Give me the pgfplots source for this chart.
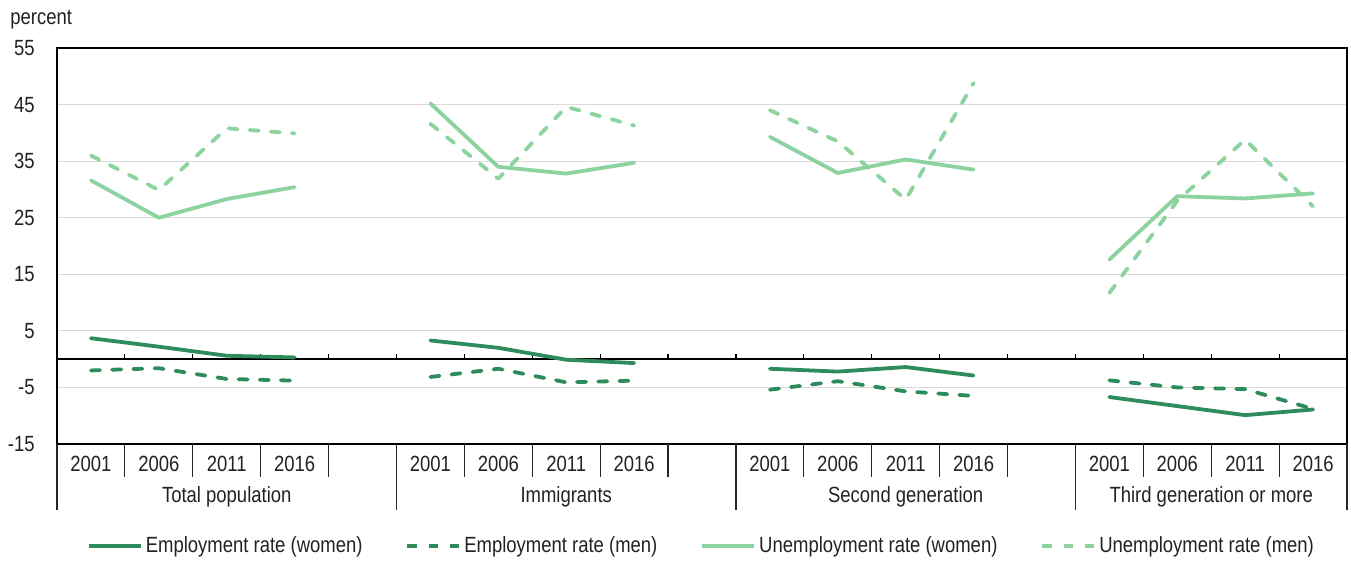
\documentclass[border=0pt]{standalone}
\usepackage{pgfplots}
\pgfplotsset{compat=1.18}
\usepackage{fontspec}
\setmainfont{Liberation Sans}[FakeStretch=0.84]
\definecolor{dkg}{RGB}{46,139,92}
\definecolor{ltg}{RGB}{141,211,160}
\definecolor{gridc}{RGB}{217,217,217}
\definecolor{txt}{RGB}{34,34,34}
\begin{document}
\fontsize{11pt}{13pt}\selectfont
\begin{tikzpicture}
\useasboundingbox (-28.5pt,-58.5pt) rectangle (647pt,222pt);
\begin{axis}[
  at={(0,0)}, anchor=south west,
  scale only axis, width=645pt, height=198pt,
  xmin=-0.5, xmax=18.5, ymin=-15, ymax=55,
  ytick={-15,-5,5,15,25,35,45,55},
  xtick={0,1,2,3,5,6,7,8,10,11,12,13,15,16,17,18},
  xticklabels={2001,2006,2011,2016,2001,2006,2011,2016,2001,2006,2011,2016,2001,2006,2011,2016},
  major tick length=0pt,
  ymajorgrids, grid style={gridc, line width=0.6pt},
  axis line style={black, line width=0.7pt},
  tick label style={font=\fontsize{11pt}{13pt}\selectfont, text=txt},
  yticklabel style={inner sep=0pt, anchor=east, xshift=-11pt},
  xticklabel style={inner sep=0pt, anchor=center, yshift=-10pt},
  /pgf/number format/assume math mode=true,
  clip=false,
  every axis plot/.append style={line width=1.9pt, line join=round, line cap=round},
  legend columns=4,
  legend style={at={(0.5,-0.2576)}, anchor=center, draw=none, fill=none,
    font=\fontsize{11pt}{13pt}\selectfont, text=txt,
    /tikz/every even column/.append style={column sep=20pt},
    inner sep=0pt, nodes={inner sep=1.5pt}},
  legend image code/.code={\draw[#1, line cap=butt] (0pt,0pt) -- (26pt,0pt);},
]
% zero line and ticks
\draw[black, line width=0.7pt] (axis cs:-0.5,0) -- (axis cs:18.5,0);
\pgfplotsinvokeforeach{0.5,1.5,...,17.5}{\draw[black, line width=0.6pt] (axis cs:#1,0) -- ++(0pt,2.5pt);}
% short separators
\pgfplotsinvokeforeach{0.5,1.5,2.5,3.5,5.5,6.5,7.5,8.5,10.5,11.5,12.5,13.5,15.5,16.5,17.5}{\draw[black!85, line width=0.6pt] (axis cs:#1,-15) -- ++(0pt,-16.5pt);}
% group separators
\pgfplotsinvokeforeach{-0.5,4.5,9.5,14.5,18.5}{\draw[black!85, line width=0.6pt] (axis cs:#1,-15) -- ++(0pt,-33pt);}
% group labels
\node[text=txt, inner sep=0pt] at ([yshift=-26.5pt]axis cs:2,-15) {Total population};
\node[text=txt, inner sep=0pt] at ([yshift=-26.5pt]axis cs:7,-15) {Immigrants};
\node[text=txt, inner sep=0pt] at ([yshift=-26.5pt]axis cs:12,-15) {Second generation};
\node[text=txt, inner sep=0pt] at ([yshift=-26.5pt]axis cs:16.5,-15) {Third generation or more};
\node[text=txt, inner sep=0pt, anchor=west] at ([xshift=-23.5pt, yshift=14pt]axis cs:-0.5,55) {percent};

% Employment rate (women)
\addplot[dkg] coordinates {(0,3.7) (1,2.2) (2,0.6) (3,0.3)};
\addlegendentry{Employment rate (women)}
\addplot[dkg, forget plot] coordinates {(5,3.3) (6,2.0) (7,-0.1) (8,-0.7)};
\addplot[dkg, forget plot] coordinates {(10,-1.7) (11,-2.2) (12,-1.4) (13,-2.9)};
\addplot[dkg, forget plot] coordinates {(15,-6.7) (16,-8.3) (17,-9.9) (18,-8.9)};
% Employment rate (men)
\addplot[dkg, dash pattern=on 4.6pt off 6pt] coordinates {(0,-2.0) (1,-1.6) (2,-3.5) (3,-3.8)};
\addlegendentry{Employment rate (men)}
\addplot[dkg, dash pattern=on 4.6pt off 6pt, forget plot] coordinates {(5,-3.15) (6,-1.7) (7,-4.1) (8,-3.8)};
\addplot[dkg, dash pattern=on 4.6pt off 6pt, forget plot] coordinates {(10,-5.4) (11,-3.9) (12,-5.7) (13,-6.5)};
\addplot[dkg, dash pattern=on 4.6pt off 6pt, forget plot] coordinates {(15,-3.75) (16,-5.0) (17,-5.3) (18,-8.8)};
% Unemployment rate (women)
\addplot[ltg] coordinates {(0,31.6) (1,25.0) (2,28.3) (3,30.4)};
\addlegendentry{Unemployment rate (women)}
\addplot[ltg, forget plot] coordinates {(5,45.2) (6,34.0) (7,32.8) (8,34.7)};
\addplot[ltg, forget plot] coordinates {(10,39.3) (11,32.9) (12,35.3) (13,33.5)};
\addplot[ltg, forget plot] coordinates {(15,17.6) (16,28.8) (17,28.4) (18,29.3)};
% Unemployment rate (men)
\addplot[ltg, dash pattern=on 4.6pt off 6pt] coordinates {(0,36.0) (1,29.9) (2,40.8) (3,39.9)};
\addlegendentry{Unemployment rate (men)}
\addplot[ltg, dash pattern=on 4.6pt off 6pt, forget plot] coordinates {(5,41.6) (6,31.9) (7,44.6) (8,41.3)};
\addplot[ltg, dash pattern=on 4.6pt off 6pt, forget plot] coordinates {(10,44.0) (11,38.5) (12,28.2) (13,48.8)};
\addplot[ltg, dash pattern=on 4.6pt off 6pt, forget plot] coordinates {(15,11.7) (16,28.0) (17,38.8) (18,27.0)};
\end{axis}
\end{tikzpicture}
\end{document}
